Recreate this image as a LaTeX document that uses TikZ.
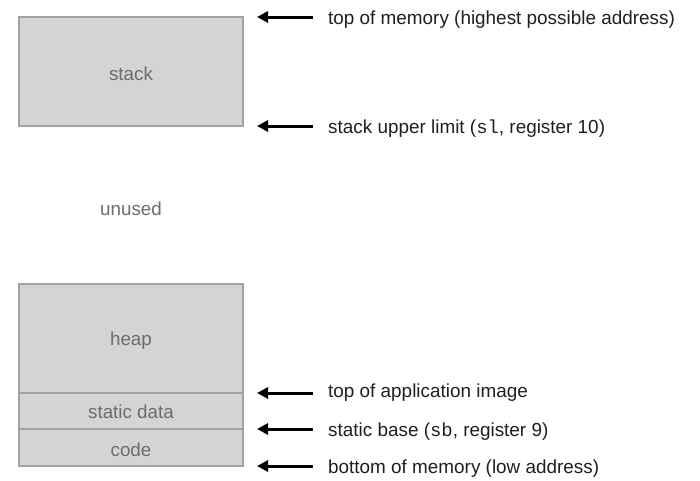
\documentclass[tikz,border=0pt]{standalone}
\usepackage{fontspec}
\setmainfont{Liberation Sans}
\newfontfamily\codefont{Liberation Mono}
\usetikzlibrary{arrows.meta}
\definecolor{boxfill}{HTML}{D4D4D4}
\definecolor{boxline}{HTML}{A2A2A2}
\definecolor{boxtext}{HTML}{6C6C6C}
\begin{document}
\begin{tikzpicture}[x=1pt,y=-1pt,
  memblock/.style={fill=boxfill,draw=boxline,line width=1.6pt},
  blocklabel/.style={text=boxtext,font=\fontsize{18.8}{20}\selectfont},
  ptr/.style={-{Triangle[length=11pt,width=11pt]},line width=3pt,black},
  ptrlabel/.style={anchor=west,inner sep=0pt,font=\fontsize{18.9}{20}\selectfont,text=black!88}]
\useasboundingbox (0,0) rectangle (700,480);
% stack block
\draw[memblock] (19,17) rectangle (243,126);
\node[blocklabel] (stack) at (131,74) {stack};
\node[blocklabel] (unused) at (131,209) {unused};
% heap, static data, code
\draw[memblock] (19,284) rectangle (243,466);
\draw[boxline,line width=1.6pt] (19,393) -- (243,393);
\draw[boxline,line width=1.6pt] (19,429) -- (243,429);
\node[blocklabel] (heap) at (131,341) {heap};
\node[blocklabel] (sdata) at (131,412) {static data};
\node[blocklabel] (code) at (131,450) {code};
% pointers
\foreach \n/\yy in {a/17,b/126,c/393,d/429,e/466}{
  \coordinate (s\n) at (313,\yy);
  \coordinate (t\n) at (257,\yy);
}
\node[ptrlabel] (la) at (328,20) {top of memory (highest possible address)};
\node[ptrlabel] (lb) at (328,129) {stack upper limit ({\codefont sl}, register 10)};
\node[ptrlabel] (lc) at (328,393) {top of application image};
\node[ptrlabel] (ld) at (328,432) {static base ({\codefont sb}, register 9)};
\node[ptrlabel] (le) at (328,469) {bottom of memory (low address)};
\foreach \n in {a,b,c,d,e}{
  \draw[ptr] (s\n) -- (t\n);
}
\end{tikzpicture}
\end{document}
